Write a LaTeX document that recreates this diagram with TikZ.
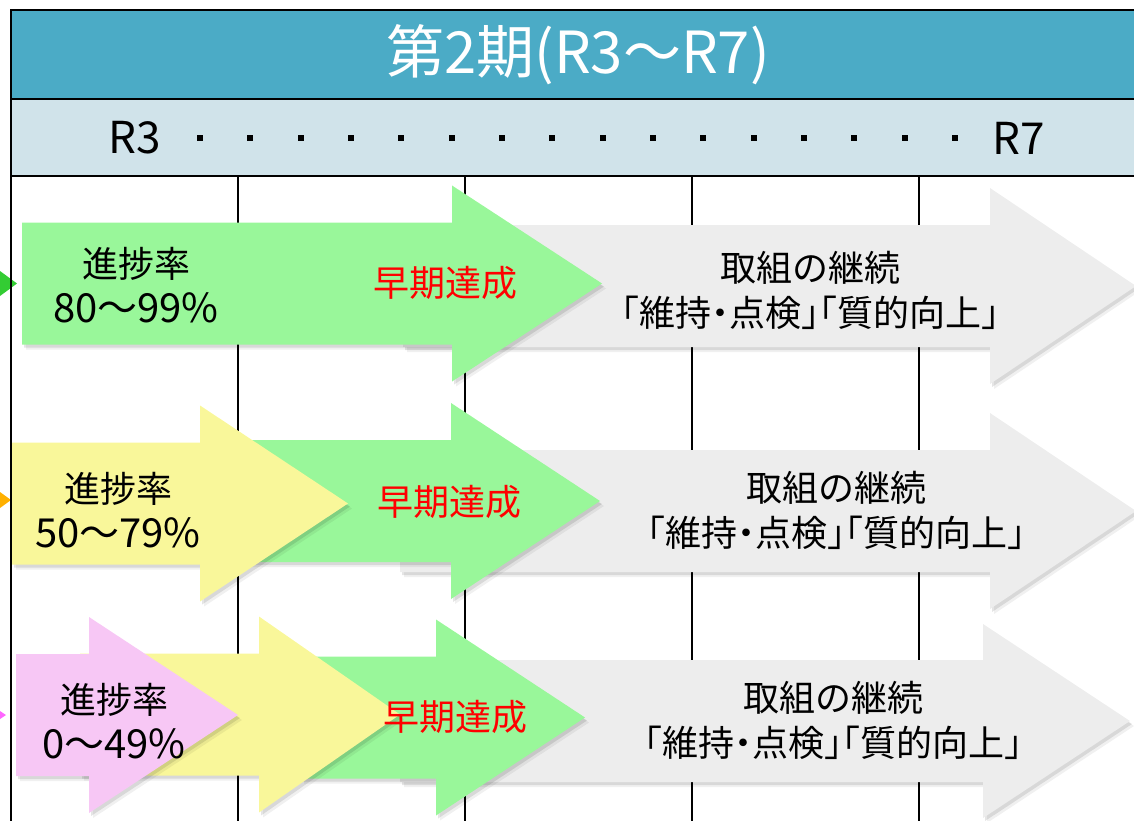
\documentclass[tikz,border=0pt]{standalone}
\usepackage{fontspec}
\setmainfont{Noto Sans CJK JP}
\newfontfamily\haltfont[RawFeature=+halt]{Noto Sans CJK JP}
\definecolor{hdark}{HTML}{4BABC6}
\definecolor{hlight}{HTML}{D0E3EA}
\definecolor{agreen}{HTML}{99F79A}
\definecolor{ayellow}{HTML}{F9F79A}
\definecolor{apink}{HTML}{F7C7F5}
\definecolor{agray}{HTML}{EDEDED}
\definecolor{tgreen}{HTML}{33CC33}
\definecolor{torange}{HTML}{FFB000}
\definecolor{tpink}{HTML}{FF66FF}
\newcommand{\arrowpath}[6]{(#1,{#4-#5}) -- (#2,{#4-#5}) -- (#2,{#4-#6}) -- (#3,#4) -- (#2,{#4+#6}) -- (#2,{#4+#5}) -- (#1,{#4+#5}) -- cycle}
% #1 fill colour, #2 x0, #3 x1 (head start), #4 tip, #5 yc, #6 body half height, #7 head half height
\newcommand{\bigarrow}[7]{%
  \begin{scope}[shift={(2,3)}]\fill[black,opacity=.10] \arrowpath{#2}{#3}{#4}{#5}{#6}{#7};\end{scope}
  \begin{scope}[shift={(4,5)}]\fill[black,opacity=.06] \arrowpath{#2}{#3}{#4}{#5}{#6}{#7};\end{scope}
  \fill[#1] \arrowpath{#2}{#3}{#4}{#5}{#6}{#7};}
\newcommand{\numline}[1]{{\fontsize{40}{45}\selectfont #1}}
\newcommand{\keepline}{{\haltfont 「維持・点検」「質的向上」}}
\tikzset{
  frameline/.style={line width=2pt, black},
  bodytext/.style={font=\fontsize{36}{45}\selectfont, align=center, inner sep=0pt},
  redtext/.style={font=\fontsize{36}{45}\selectfont, text=red, inner sep=0pt},
  yeartext/.style={font=\fontsize{44}{50}\selectfont, inner sep=0pt},
  titletext/.style={font=\fontsize{58}{64}\selectfont, text=white, inner sep=0pt},
}
\begin{document}
\begin{tikzpicture}[x=1pt,y=-1pt]
\useasboundingbox (0,0) rectangle (1134,821);
\clip (0,0) rectangle (1134,821);
% header bands
\fill[hdark] (11,10) rectangle (1145,99);
\fill[hlight] (11,99) rectangle (1145,176);
% small incoming arrow tips at the left edge
\fill[tgreen] (0,271) -- (17,283.5) -- (0,296) -- cycle;
\fill[torange] (0,492) -- (11,500) -- (0,508) -- cycle;
\fill[tpink] (0,711) -- (6,715) -- (0,719) -- cycle;
% grid lines
\draw[line width=2.5pt] (1145,10) -- (11,10) -- (11,821);
\draw[frameline] (11,99) -- (1145,99);
\draw[frameline] (11,176) -- (1145,176);
\foreach \x in {238,465,692,919} \draw[frameline] (\x,176) -- (\x,821);
% header texts
\node[titletext] (title) at (578,55) {第2期(R3～R7)};
\node[yeartext] (r3) at (135,138) {R3};
\node[yeartext] (r7) at (1019,138) {R7};
\foreach \i in {0,...,15} \fill ({200+50.33*\i-3},135) rectangle +(6,6);
% row 1
\bigarrow{agray}{403}{990}{1136}{286}{61}{98}
\bigarrow{agreen}{22}{452}{602}{283.5}{61}{98}
% row 2
\bigarrow{agray}{400}{990}{1136}{511}{61}{98}
\bigarrow{agreen}{240}{451}{600}{501}{61}{98}
\bigarrow{ayellow}{12}{200}{348}{503.5}{61}{98}
% row 3
\bigarrow{agray}{400}{983}{1130}{721}{61}{97}
\bigarrow{agreen}{300}{436}{585}{717.5}{61}{98}
\bigarrow{ayellow}{80}{259}{400}{714.5}{61}{98}
\bigarrow{apink}{16}{89}{238}{715}{61}{98}
% row 1 texts
\node[bodytext] (p1) at (136,285.5) {進捗率\\\numline{80～99\%}};
\node[redtext] (e1) at (445,283) {早期達成};
\node[bodytext] (c1) at (810,290) {取組の継続\\\keepline};
% row 2 texts
\node[bodytext] (p2) at (118,510.5) {進捗率\\\numline{50～79\%}};
\node[redtext] (e2) at (449,502) {早期達成};
\node[bodytext] (c2) at (836,510.5) {取組の継続\\\keepline};
% row 3 texts
\node[bodytext] (p3) at (114,721.5) {進捗率\\\numline{0～49\%}};
\node[redtext] (e3) at (455,717) {早期達成};
\node[bodytext] (c3) at (833,720) {取組の継続\\\keepline};
\end{tikzpicture}
\end{document}
